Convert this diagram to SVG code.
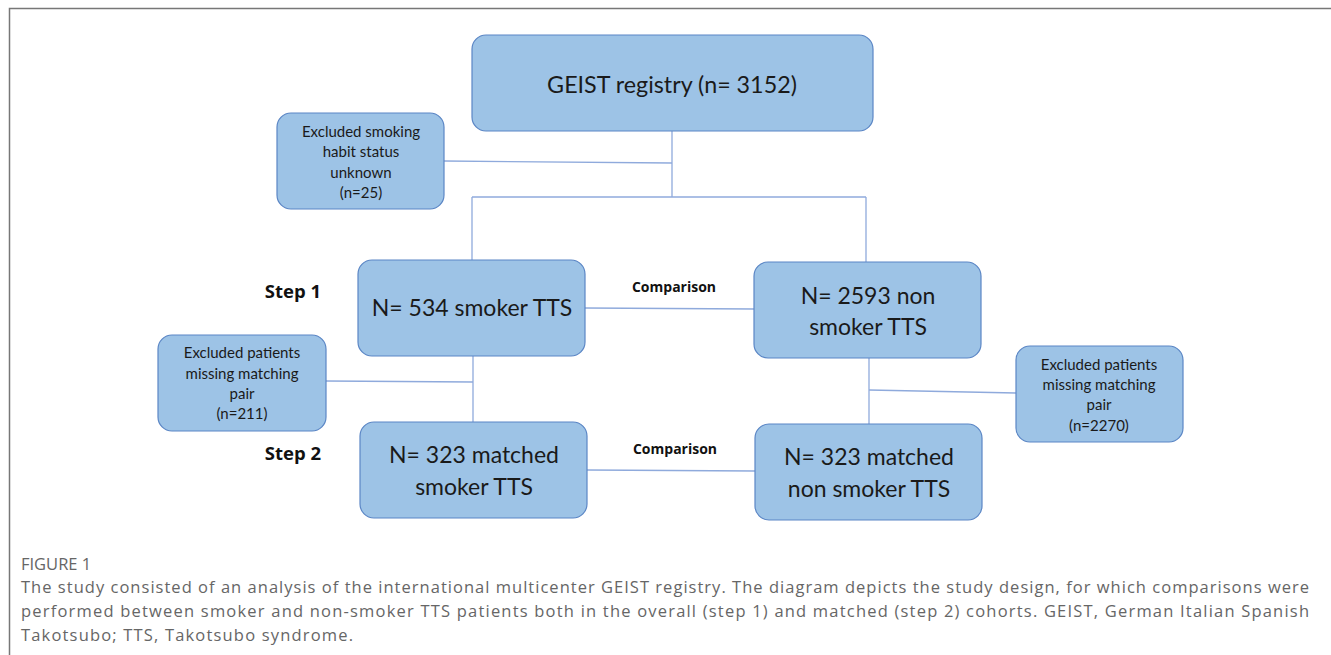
<svg xmlns="http://www.w3.org/2000/svg" width="1331" height="655" viewBox="0 0 1331 655">
<style>
.box{fill:#9DC3E6;stroke:#5B86C5;stroke-width:1.2}
.t{font-family:Lato,"Open Sans",sans-serif;fill:#1a1a1a;text-anchor:middle}
.big{font-size:23px}
.sm{font-size:15px}
.lbl{font-family:"Open Sans",Lato,sans-serif;font-weight:bold;fill:#111}
.ln{stroke:#8FAADC;stroke-width:1.3;fill:none}
.cap{font-family:"Open Sans",Lato,sans-serif;fill:#666;font-size:16.5px}
</style>
<rect width="1331" height="655" fill="#fff"/>
<path d="M9.5 655 V8.5 H1331" fill="none" stroke="#777" stroke-width="1.5"/>
<g id="connectors">
<path class="ln" d="M672 131 V197"/>
<path class="ln" d="M444 161 L672 163"/>
<path class="ln" d="M472 197 H866"/>
<path class="ln" d="M472 197 V260"/>
<path class="ln" d="M866 197 V262"/>
<path class="ln" d="M585 308 L754 309"/>
<path class="ln" d="M473 356 V422"/>
<path class="ln" d="M326 381 L473 382"/>
<path class="ln" d="M869 358 V424"/>
<path class="ln" d="M869 390 L1016 393"/>
<path class="ln" d="M587 470 L755 471"/>
</g>
<g id="registry">
<rect class="box" x="472" y="35" width="401" height="96" rx="14"/>
<text class="t big" x="672" y="93" style="font-size:23.3px">GEIST registry (n= 3152)</text>
</g>
<g id="excluded-unknown">
<rect class="box" x="277" y="113" width="167" height="96" rx="14"/>
<text class="t sm" x="361" y="137">Excluded smoking</text>
<text class="t sm" x="361" y="157">habit status</text>
<text class="t sm" x="361" y="178">unknown</text>
<text class="t sm" x="361" y="198">(n=25)</text>
</g>
<g id="smoker">
<rect class="box" x="358" y="260" width="227" height="96" rx="14"/>
<text class="t big" x="472" y="316">N= 534 smoker TTS</text>
</g>
<g id="nonsmoker">
<rect class="box" x="754" y="262" width="227" height="96" rx="14"/>
<text class="t big" x="868" y="304">N= 2593 non</text>
<text class="t big" x="868" y="335">smoker TTS</text>
</g>
<g id="excluded-left">
<rect class="box" x="158" y="335" width="168" height="96" rx="14"/>
<text class="t sm" x="242" y="358">Excluded patients</text>
<text class="t sm" x="242" y="379">missing matching</text>
<text class="t sm" x="242" y="399">pair</text>
<text class="t sm" x="242" y="419">(n=211)</text>
</g>
<g id="excluded-right">
<rect class="box" x="1016" y="346" width="167" height="96" rx="14"/>
<text class="t sm" x="1099" y="370">Excluded patients</text>
<text class="t sm" x="1099" y="390">missing matching</text>
<text class="t sm" x="1099" y="410">pair</text>
<text class="t sm" x="1099" y="431">(n=2270)</text>
</g>
<g id="matched-smoker">
<rect class="box" x="360" y="422" width="227" height="96" rx="14"/>
<text class="t big" x="474" y="463">N= 323 matched</text>
<text class="t big" x="474" y="495">smoker TTS</text>
</g>
<g id="matched-nonsmoker">
<rect class="box" x="755" y="424" width="227" height="96" rx="14"/>
<text class="t big" x="869" y="465">N= 323 matched</text>
<text class="t big" x="869" y="497">non smoker TTS</text>
</g>
<g id="labels">
<text class="lbl" x="321" y="298" text-anchor="end" font-size="18.5">Step 1</text>
<text class="lbl" x="321" y="460" text-anchor="end" font-size="18.5">Step 2</text>
<text class="lbl" x="674" y="292" text-anchor="middle" font-size="14">Comparison</text>
<text class="lbl" x="675" y="454" text-anchor="middle" font-size="14">Comparison</text>
</g>
<g id="caption">
<text class="cap" x="21" y="570" font-size="13.5">FIGURE 1</text>
<text class="cap" x="21" y="593" textLength="1288" lengthAdjust="spacing">The study consisted of an analysis of the international multicenter GEIST registry. The diagram depicts the study design, for which comparisons were</text>
<text class="cap" x="21" y="617" textLength="1288" lengthAdjust="spacing">performed between smoker and non-smoker TTS patients both in the overall (step 1) and matched (step 2) cohorts. GEIST, German Italian Spanish</text>
<text class="cap" x="21" y="641" textLength="332" lengthAdjust="spacing">Takotsubo; TTS, Takotsubo syndrome.</text>
</g>
</svg>
